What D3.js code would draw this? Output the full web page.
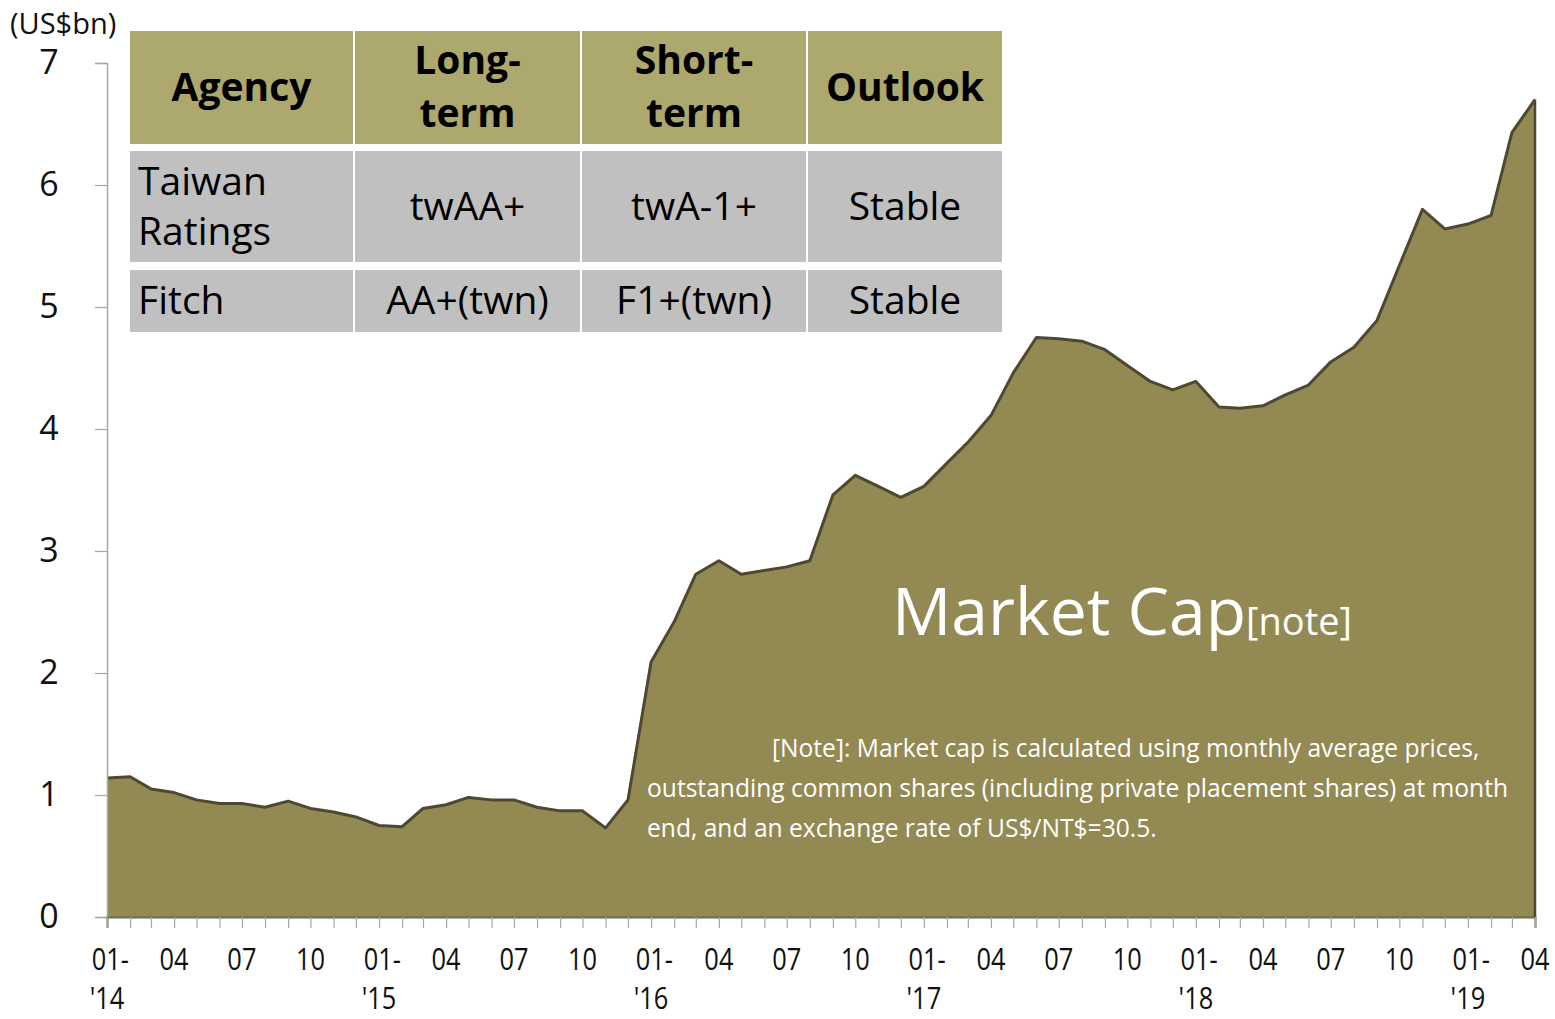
<!DOCTYPE html>
<html>
<head>
<meta charset="utf-8">
<script src="https://cdn.jsdelivr.net/npm/d3@7"></script>
<style>
  body { margin: 0; background: #fff; }
  svg { font-family: "Open Sans", "Noto Sans", sans-serif; }
</style>
</head>
<body>
<div id="chart"></div>
<script>
// monthly market cap, US$bn, Jan 2014 .. Apr 2019
const months = d3.range(64).map(i => new Date(2014, i, 1));
const marketCap = [
  1.14, 1.15, 1.05, 1.02, 0.96, 0.93, 0.93, 0.90, 0.95, 0.89, 0.86, 0.82,
  0.75, 0.74, 0.89, 0.92, 0.98, 0.96, 0.96, 0.90, 0.87, 0.87, 0.73, 0.96,
  2.09, 2.42, 2.81, 2.92, 2.81, 2.84, 2.87, 2.92, 3.46, 3.62, 3.53, 3.44,
  3.53, 3.72, 3.89, 4.11, 4.46, 4.75, 4.74, 4.72, 4.65, 4.52, 4.39, 4.32,
  4.39, 4.18, 4.17, 4.19, 4.28, 4.36, 4.55, 4.67, 4.89, 5.34, 5.80, 5.64,
  5.68, 5.75, 6.43, 6.70
];
const yTicks = [0, 1, 2, 3, 4, 5, 6, 7];

const tableHeader = ["Agency", "Long-|term", "Short-|term", "Outlook"];
const tableRows = [
  ["Taiwan|Ratings", "twAA+", "twA-1+", "Stable"],
  ["Fitch", "AA+(twn)", "F1+(twn)", "Stable"]
];

const noteLines = [
  "[Note]: Market cap is calculated using monthly average prices,",
  "outstanding common shares (including private placement shares) at month",
  "end, and an exchange rate of US$/NT$=30.5."
];

const width = 1555, height = 1019;
const svg = d3.select("#chart").append("svg")
  .attr("width", width)
  .attr("height", height);

const x = d3.scaleTime()
  .domain([months[0], months[months.length - 1]])
  .range([107, 1535]);
const y = d3.scaleLinear().domain([0, 7]).range([917, 63]);

// area
const area = d3.area()
  .x((d, i) => x(months[i]))
  .y0(y(0))
  .y1(d => y(d));
const line = d3.line()
  .x((d, i) => x(months[i]))
  .y(d => y(d));

svg.append("path")
  .datum(marketCap)
  .attr("d", area)
  .attr("fill", "#938953");

svg.append("path")
  .datum(marketCap)
  .attr("d", line)
  .attr("fill", "none")
  .attr("stroke", "#4d4930")
  .attr("stroke-width", 3)
  .attr("stroke-linejoin", "round");

// right edge of area
svg.append("line")
  .attr("x1", x(months[63])).attr("x2", x(months[63]))
  .attr("y1", y(marketCap[63])).attr("y2", y(0))
  .attr("stroke", "#4d4930").attr("stroke-width", 2.5);

// y axis
const yAxis = svg.append("g")
  .attr("transform", "translate(107,0)")
  .call(d3.axisLeft(y).tickValues(yTicks).tickFormat(d3.format("d")).tickSize(12).tickPadding(36));
yAxis.select(".domain").attr("stroke", "#a6a6a6").attr("stroke-width", 1.5);
yAxis.selectAll(".tick line").attr("stroke", "#a6a6a6").attr("stroke-width", 1.2);
yAxis.selectAll(".tick text")
  .attr("font-size", 34)
  .attr("font-family", "'Open Sans', sans-serif")
  .attr("fill", "#111")
  .attr("text-anchor", "middle")
  .attr("dx", -10);

svg.append("text")
  .attr("x", 10).attr("y", 34)
  .attr("font-size", 29)
  .attr("fill", "#111")
  .text("(US$bn)");

// x axis
const xAxis = svg.append("g")
  .attr("transform", `translate(0,${y(0)})`)
  .call(d3.axisBottom(x).tickValues(months).tickSize(11).tickFormat(""));
xAxis.select(".domain").attr("stroke", "#6b6b5a").attr("stroke-width", 2);
xAxis.selectAll(".tick line").attr("stroke", "#a6a6a6").attr("stroke-width", 1.2);

const labelMonths = months.filter(d => d.getMonth() % 3 === 0);
const xl = svg.append("g").attr("font-size", 31).attr("fill", "#111");
labelMonths.forEach(d => {
  const mm = d3.timeFormat("%m")(d);
  const isJan = d.getMonth() === 0;
  const g = xl.append("g")
    .attr("transform", `translate(${x(d)},0) scale(0.82,1)`);
  g.append("text")
    .attr("y", 970)
    .attr("text-anchor", "middle")
    .attr("dx", isJan ? 4 : 0)
    .text(isJan ? mm + "-" : mm);
  if (isJan) {
    g.append("text")
      .attr("y", 1009)
      .attr("text-anchor", "middle")
      .text("'" + d3.timeFormat("%y")(d));
  }
});

// rating table
const colX = [130, 355, 582, 808];
const colW = [223, 225, 224, 194];
const rowY = [31, 151, 270];
const rowH = [113, 111, 62];
const rows = [tableHeader, ...tableRows];
const tbl = svg.append("g");
rows.forEach((row, r) => {
  row.forEach((cell, c) => {
    tbl.append("rect")
      .attr("x", colX[c]).attr("y", rowY[r])
      .attr("width", colW[c]).attr("height", rowH[r])
      .attr("fill", r === 0 ? "#aca86e" : "#c0c0c0");
    const parts = cell.split("|");
    const left = r > 0 && c === 0;
    const tx = left ? colX[c] + 8 : colX[c] + colW[c] / 2;
    const cy = rowY[r] + rowH[r] / 2;
    const lh = r === 0 ? 53 : 50;
    const t = tbl.append("text")
      .attr("text-anchor", left ? "start" : "middle")
      .attr("font-size", r === 0 ? 39 : 39)
      .attr("font-weight", r === 0 ? "bold" : "normal")
      .attr("fill", "#000");
    parts.forEach((p, k) => {
      t.append("tspan")
        .attr("x", tx)
        .attr("y", cy + (k - (parts.length - 1) / 2) * lh + 13)
        .text(p);
    });
  });
});

// labels inside the area
const mc = svg.append("text")
  .attr("x", 892).attr("y", 635)
  .attr("fill", "#fff");
mc.append("tspan").attr("font-size", 66).text("Market Cap");
mc.append("tspan").attr("font-size", 38).text("[note]");

const note = svg.append("g").attr("font-size", 24.6).attr("fill", "#fff");
noteLines.forEach((s, i) => {
  note.append("text")
    .attr("x", i === 0 ? 772 : 647)
    .attr("y", 757 + i * 40)
    .text(s);
});
</script>
</body>
</html>
